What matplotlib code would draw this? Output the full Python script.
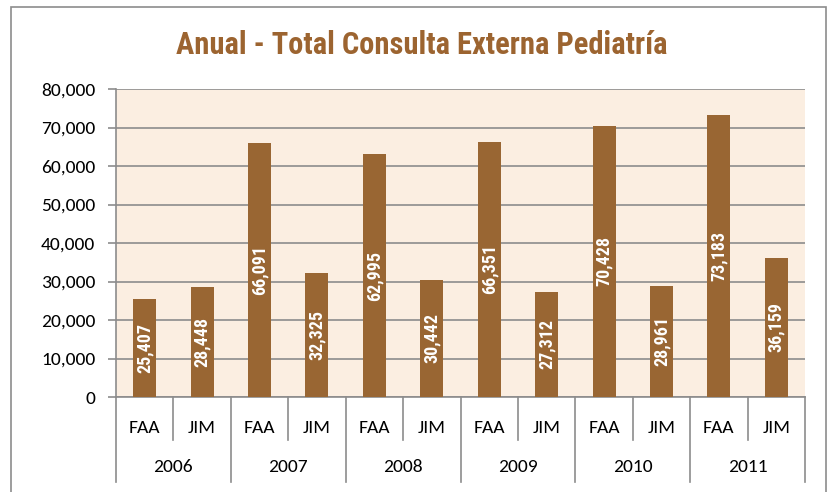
import matplotlib.pyplot as plt
from matplotlib.patches import Rectangle
from matplotlib.lines import Line2D

years = ['2006', '2007', '2008', '2009', '2010', '2011']
units = ['FAA', 'JIM']
faa = [25407, 66091, 62995, 66351, 70428, 73183]
jim = [28448, 32325, 30442, 27312, 28961, 36159]
yticks = [0, 10000, 20000, 30000, 40000, 50000, 60000, 70000, 80000]

values = []
for a, b in zip(faa, jim):
    values += [a, b]
labels = units * len(years)

bar_color = '#996633'
bg_color = '#FBEEE1'
grid_color = '#8C8C8C'
narrow = ['Roboto Condensed', 'DejaVu Sans']
tickfont = ['Carlito', 'Lato', 'DejaVu Sans']

fig = plt.figure(figsize=(8.33, 4.92), dpi=100)
ax = fig.add_axes([116 / 833, 95 / 492, 689 / 833, 308 / 492])

x = list(range(len(values)))
ax.bar(x, values, width=0.4, color=bar_color, zorder=3)
ax.set_facecolor(bg_color)
ax.set_xlim(-0.5, len(values) - 0.5)
ax.set_ylim(0, 80000)
ax.set_yticks(yticks)
ax.set_yticklabels([f'{v:,}' for v in yticks], fontsize=14, family=tickfont)
ax.yaxis.grid(True, color=grid_color, linewidth=1.2, zorder=0)
ax.tick_params(axis='y', length=6, color=grid_color, width=1.2, pad=9)
ax.set_xticks([])
for s in ['top', 'right']:
    ax.spines[s].set_visible(False)
for s in ['left', 'bottom']:
    ax.spines[s].set_color(grid_color)
    ax.spines[s].set_linewidth(1.2)

for xi, v in zip(x, values):
    ax.text(xi, v / 2, f'{v:,}', rotation=90, ha='center', va='center',
            color='white', fontsize=13, fontweight='bold', family=narrow, zorder=4)

# category axis below the plot
tr = ax.get_xaxis_transform()
n = len(values)
for i in range(n + 1):
    pos = i - 0.5
    long = (i % 2 == 0)
    y_end = -0.277 if long else -0.14
    ax.add_line(Line2D([pos, pos], [0, y_end], transform=tr, color=grid_color,
                       linewidth=1.2, clip_on=False))
for xi, lab in zip(x, labels):
    ax.text(xi, -0.1, lab, transform=tr, ha='center', va='center',
            fontsize=14, family=tickfont)
for k, yr in enumerate(years):
    ax.text(2 * k + 0.5, -0.228, yr, transform=tr, ha='center', va='center',
            fontsize=14, family=tickfont)

fig.suptitle('Anual - Total Consulta Externa Pediatría', x=422 / 833, y=1 - 45 / 492,
             va='center', fontsize=22, fontweight='bold', color='#9C6430', family=narrow)

fig.add_artist(Rectangle((11 / 833, -0.02), 815 / 833, 1.02 - 7 / 492, transform=fig.transFigure,
                         fill=False, edgecolor='#8C8C8C', linewidth=1.2))

fig.savefig('out.png', dpi=100)
